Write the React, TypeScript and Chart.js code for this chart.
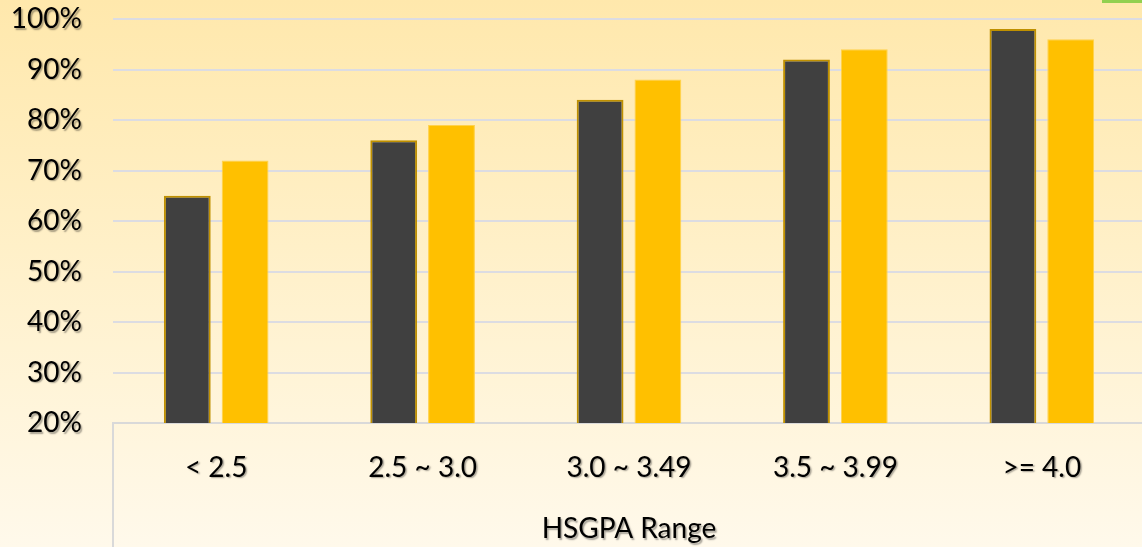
import React, { useEffect, useRef } from "react";
import { Chart, registerables } from "chart.js";

Chart.register(...registerables);

const categories = ["< 2.5", "2.5 ~ 3.0", "3.0 ~ 3.49", "3.5 ~ 3.99", ">= 4.0"];
const seriesDark = [65, 76, 84, 92, 98];
const seriesGold = [72, 79, 88, 94, 96];
const yMin = 20;
const yMax = 100;
const yStep = 10;
const xTitle = "HSGPA Range";

const FONT = "Lato, 'Open Sans', sans-serif";

const shadowPlugin = {
  id: "textShadow",
  afterLayout(chart: any) {
    const ctx = chart.ctx;
    Object.values(chart.scales).forEach((scale: any) => {
      if (scale.__wrapped) return;
      scale.__wrapped = true;
      const wrap = (name: string) => {
        const orig = scale[name].bind(scale);
        scale[name] = (...args: any[]) => {
          ctx.save();
          ctx.shadowColor = "rgba(0,0,0,0.35)";
          ctx.shadowOffsetX = 1.5;
          ctx.shadowOffsetY = 1.5;
          ctx.shadowBlur = 1.5;
          orig(...args);
          ctx.restore();
        };
      };
      wrap("drawLabels");
      wrap("drawTitle");
    });
  },
};

const leftLinePlugin = {
  id: "leftLine",
  afterDraw(chart: any) {
    const { ctx, chartArea } = chart;
    ctx.save();
    ctx.strokeStyle = "#D9D9D9";
    ctx.lineWidth = 2;
    ctx.beginPath();
    ctx.moveTo(chartArea.left, chartArea.bottom);
    ctx.lineTo(chartArea.left, chart.height);
    ctx.stroke();
    ctx.restore();
  },
};

export default function App() {
  const ref = useRef<HTMLCanvasElement | null>(null);

  useEffect(() => {
    if (!ref.current) return;
    const chart = new Chart(ref.current, {
      type: "bar",
      data: {
        labels: categories,
        datasets: [
          {
            label: "A",
            data: seriesDark,
            backgroundColor: "#404040",
            borderColor: "#BF9000",
            borderWidth: 2,
            barPercentage: 0.81,
            categoryPercentage: 0.56,
          },
          {
            label: "B",
            data: seriesGold,
            backgroundColor: "#FFC000",
            borderColor: "#FFD24D",
            borderWidth: 1,
            barPercentage: 0.81,
            categoryPercentage: 0.56,
          },
        ],
      },
      options: {
        responsive: false,
        maintainAspectRatio: false,
        animation: false,
        layout: { padding: { top: 19, left: 0, right: 0, bottom: 0 } },
        plugins: {
          legend: { display: false },
          tooltip: { enabled: false },
        },
        scales: {
          x: {
            grid: { display: false, drawTicks: false },
            border: { display: true, color: "#D9D9D9", width: 2 },
            ticks: {
              color: "#000",
              font: { family: FONT, size: 28 },
              padding: 28,
              maxRotation: 0,
            },
            title: {
              display: true,
              text: xTitle,
              color: "#000",
              font: { family: FONT, size: 28 },
              padding: { top: 0, bottom: 1 },
            },
            afterFit: (scale: any) => {
              scale.height = 124;
              scale.paddingLeft = 0;
              scale.paddingRight = 0;
            },
          },
          y: {
            min: yMin,
            max: yMax,
            grid: { color: "#DCDCE2", lineWidth: 2, drawTicks: false },
            border: { display: false },
            ticks: {
              stepSize: yStep,
              color: "#000",
              font: { family: FONT, size: 28 },
              padding: 31,
              callback: (v: any) => v + "%",
            },
            afterFit: (scale: any) => {
              scale.width = 113;
              scale.paddingTop = 0;
              scale.paddingBottom = 0;
            },
          },
        },
      },
      plugins: [shadowPlugin, leftLinePlugin],
    });
    return () => chart.destroy();
  }, []);

  return (
    <div
      style={{
        position: "fixed",
        left: 0,
        top: 0,
        width: 1142,
        height: 547,
        overflow: "hidden",
        background: "linear-gradient(180deg, #FFE8AC 0%, #FFF0C8 45%, #FFF9EB 100%)",
      }}
    >
      <canvas ref={ref} width={1145} height={547} style={{ display: "block" }} />
      <div
        style={{
          position: "absolute",
          left: 1102,
          top: 0,
          width: 40,
          height: 3,
          background: "#92D050",
        }}
      />
    </div>
  );
}
